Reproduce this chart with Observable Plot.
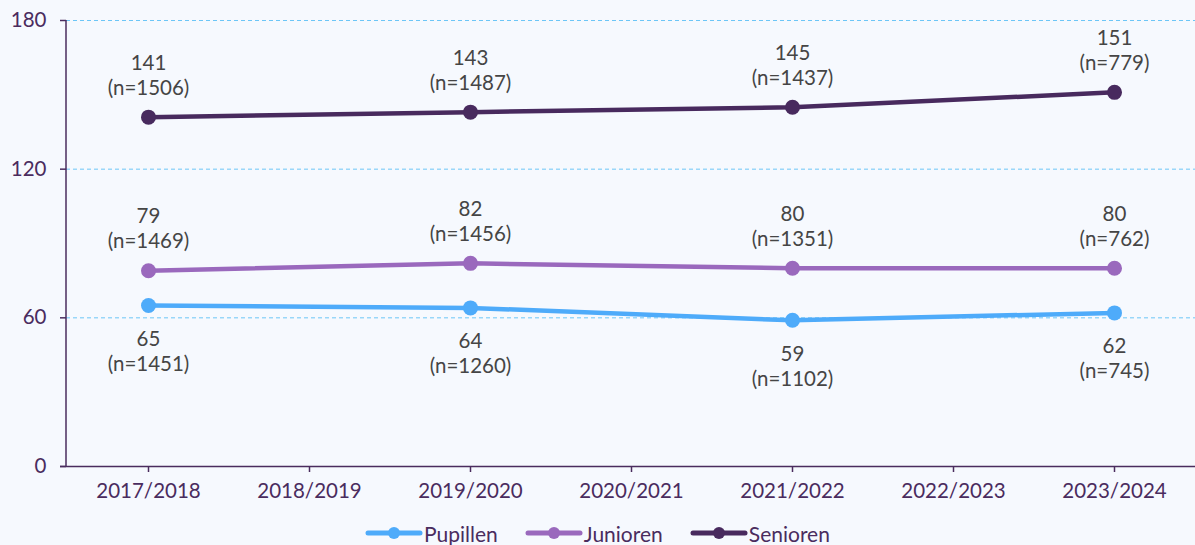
<!DOCTYPE html>
<html>
<head>
<meta charset="utf-8">
<script src="https://cdn.jsdelivr.net/npm/d3@7"></script>
<script src="https://cdn.jsdelivr.net/npm/@observablehq/plot@0.6"></script>
<style>
  html, body { margin: 0; padding: 0; background: #f6f9fe; }
  body { width: 1195px; height: 545px; overflow: hidden; font-family: Lato, "Open Sans", sans-serif; }
  #legend { display: flex; justify-content: center; align-items: center; gap: 27px; height: 30px; padding-top: 8px; font-size: 21px; color: #4a2c5e; }
  .item { display: flex; align-items: center; gap: 1px; }
</style>
</head>
<body>
<div id="chart"></div>
<div id="legend"></div>
<script>
const seasons = ["2017/2018","2018/2019","2019/2020","2020/2021","2021/2022","2022/2023","2023/2024"];
const dataSeasons = ["2017/2018","2019/2020","2021/2022","2023/2024"];
const seriesNames = ["Pupillen","Junioren","Senioren"];
const pupillen = [65, 64, 59, 62];
const pupillenN = [1451, 1260, 1102, 745];
const junioren = [79, 82, 80, 80];
const juniorenN = [1469, 1456, 1351, 762];
const senioren = [141, 143, 145, 151];
const seniorenN = [1506, 1487, 1437, 779];
const yTicks = [0, 60, 120, 180];
const gridTicks = [60, 120, 180];
const colors = {Pupillen: "#4eabfa", Junioren: "#9a69bd", Senioren: "#482a5e"};

const rows = [];
[[ "Pupillen", pupillen, pupillenN ], [ "Junioren", junioren, juniorenN ], [ "Senioren", senioren, seniorenN ]]
  .forEach(([name, vals, ns]) => vals.forEach((v, i) => rows.push({series: name, season: dataSeasons[i], value: v, n: ns[i]})));

const axisColor = "#4a2c5e";

const yAxisLine = (index, scales, values, dims) => {
  const g = d3.create("svg:line")
    .attr("x1", dims.marginLeft).attr("x2", dims.marginLeft)
    .attr("y1", scales.y(180)).attr("y2", scales.y(0))
    .attr("stroke", axisColor).attr("stroke-width", 1.5);
  return g.node();
};

const plot = Plot.plot({
  width: 1195,
  height: 510,
  marginLeft: 66,
  marginRight: 0,
  marginTop: 20,
  marginBottom: 44,
  style: {background: "transparent", fontFamily: "Lato, 'Open Sans', sans-serif"},
  x: {type: "point", domain: seasons, padding: 0.5, label: null},
  y: {domain: [0, 180], label: null},
  marks: [
    Plot.ruleY(gridTicks, {stroke: "#6cc6f7", strokeDasharray: "4,3", strokeWidth: 1}),
    Plot.ruleY([0], {stroke: axisColor, strokeWidth: 1.5, insetLeft: -6}),
    yAxisLine,
    Plot.axisY({ticks: yTicks, tickSize: 6, tickPadding: 14, fontSize: 20.5, color: axisColor, stroke: axisColor, strokeWidth: 1.5}),
    Plot.axisX({tickSize: 6, tickPadding: 11, fontSize: 20.5, color: axisColor, stroke: axisColor, strokeWidth: 1.5}),
    Plot.line(rows, {x: "season", y: "value", z: "series", stroke: d => colors[d.series], strokeWidth: 4.5}),
    Plot.dot(rows, {x: "season", y: "value", fill: d => colors[d.series], r: 7.5}),
    Plot.text(rows.filter(d => d.series !== "Pupillen"), {x: "season", y: "value", text: d => `${d.value}\n(n=${d.n})`, dy: -43, lineAnchor: "middle", lineHeight: 1.22, fontSize: 20.5, fill: "#454545"}),
    Plot.text(rows.filter(d => d.series === "Pupillen"), {x: "season", y: "value", text: d => `${d.value}\n(n=${d.n})`, dy: 45, lineAnchor: "middle", lineHeight: 1.22, fontSize: 20.5, fill: "#454545"})
  ]
});
document.getElementById("chart").appendChild(plot);

const legend = document.getElementById("legend");
seriesNames.forEach(name => {
  const item = document.createElement("div");
  item.className = "item";
  item.innerHTML = `<svg width="58" height="14"><line x1="3" x2="55" y1="7" y2="7" stroke="${colors[name]}" stroke-width="5" stroke-linecap="round"/><circle cx="29" cy="7" r="6" fill="${colors[name]}"/></svg><span>${name}</span>`;
  legend.appendChild(item);
});
</script>
</body>
</html>
